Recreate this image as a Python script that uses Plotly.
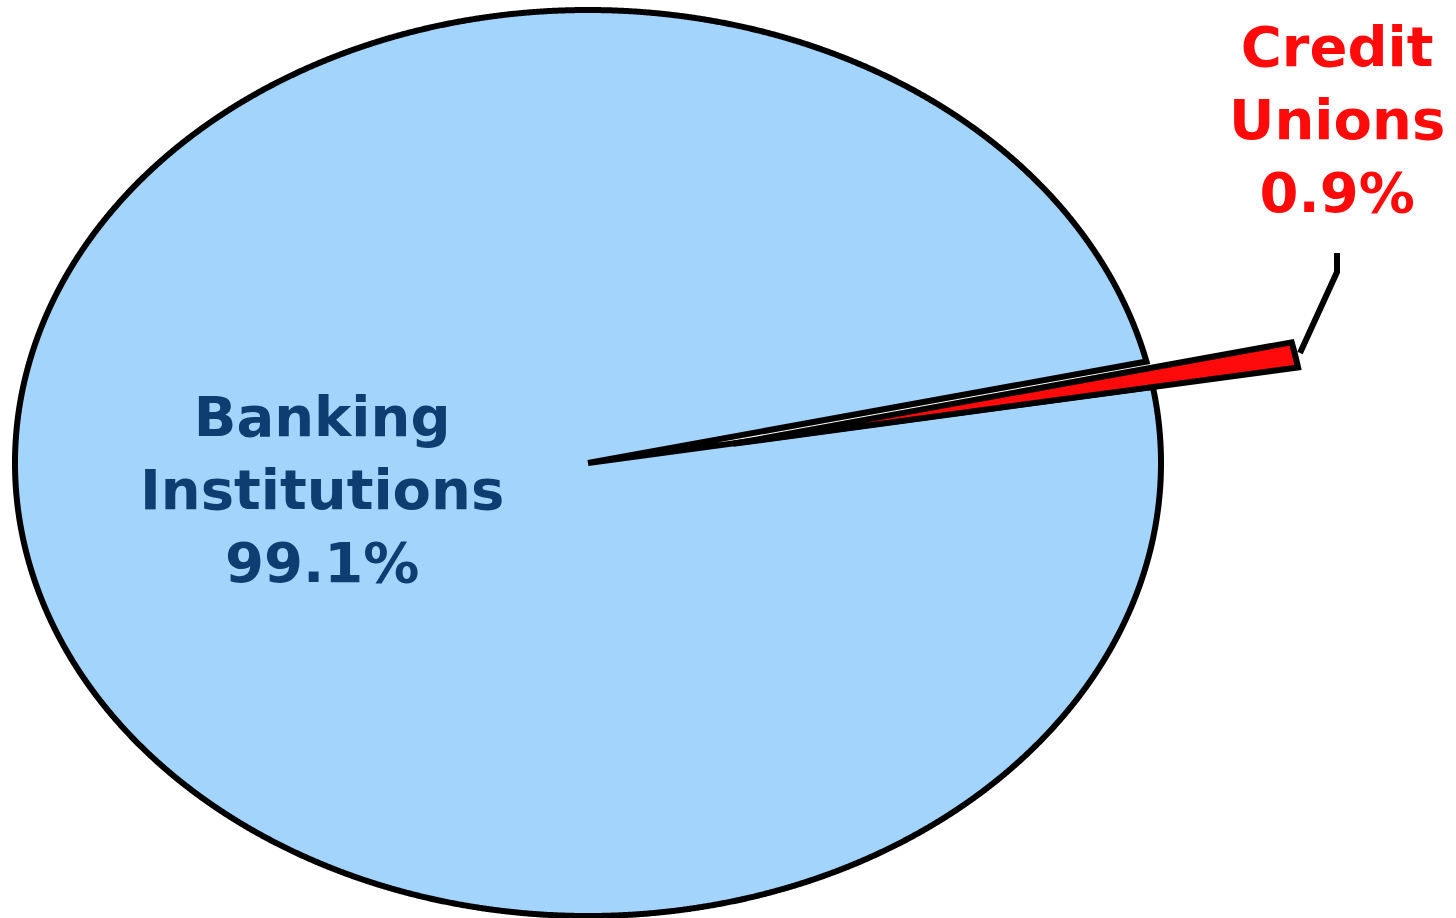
import numpy as np
import plotly.graph_objects as go

# ---- data ----
labels = ["Banking Institutions", "Credit Unions"]
values = [99.1, 0.9]
label_text = ["Banking<br>Institutions<br>99.1%", "Credit<br>Unions<br>0.9%"]

# ---- style ----
fills = ["#A2D4FC", "#FF0A0A"]
text_colors = ["#0E3D71", "#FF0A0A"]
start_angle = 9.7          # degrees, start of the Credit Unions slice (counter-clockwise from east)
pulls = [0.0, 0.257]       # explode distance (radius units)
pull_dir = 9.5             # degrees, explode direction for the pulled slice

W, H = 1456, 918
CX_PX, CY_PX, RX_PX, RY_PX = 588, 463, 573, 453

total = float(sum(values))
spans = [v / total * 360.0 for v in values]

cu_a0 = start_angle
cu_a1 = start_angle + spans[1]
bk_a0 = cu_a1
bk_a1 = cu_a1 + spans[0]
ranges = [(bk_a0, bk_a1), (cu_a0, cu_a1)]


def wedge(a0, a1, dx, dy, n=3000):
    t = np.radians(np.linspace(a0, a1, max(16, int(n * (a1 - a0) / 360) + 16)))
    xs = np.concatenate([[dx], dx + np.cos(t), [dx]])
    ys = np.concatenate([[dy], dy + np.sin(t), [dy]])
    return xs, ys


fig = go.Figure()
for i, (lab, (a0, a1)) in enumerate(zip(labels, ranges)):
    dx = pulls[i] * np.cos(np.radians(pull_dir))
    dy = pulls[i] * np.sin(np.radians(pull_dir))
    xs, ys = wedge(a0, a1, dx, dy)
    fig.add_trace(go.Scatter(
        x=xs, y=ys, mode="lines", fill="toself", fillcolor=fills[i],
        line=dict(color="black", width=6, simplify=False), name=lab,
        hoverinfo="skip", showlegend=False,
    ))

xr = [(0 - CX_PX) / RX_PX, (W - CX_PX) / RX_PX]
yr = [(CY_PX - H) / RY_PX, CY_PX / RY_PX]


def px_to_paper(px, py):
    return px / W, 1 - py / H


font_family = "DejaVu Sans"
ann_pos = [(322, 489), (1337, 119)]
for i in range(2):
    xp, yp = px_to_paper(*ann_pos[i])
    fig.add_annotation(
        x=xp, y=yp, xref="paper", yref="paper", text="<b>" + label_text[i] + "</b>",
        showarrow=False, xanchor="center", yanchor="middle", align="center",
        font=dict(family=font_family, size=56, color=text_colors[i]),
    )

pts = [(1300, 353), (1337, 272), (1337, 253)]
path = "M " + " L ".join(f"{px_to_paper(x, y)[0]},{px_to_paper(x, y)[1]}" for x, y in pts)
fig.add_shape(type="path", path=path, xref="paper", yref="paper",
              line=dict(color="black", width=6))

fig.update_layout(
    width=W, height=H, margin=dict(l=0, r=0, t=0, b=0),
    paper_bgcolor="white", plot_bgcolor="white",
    xaxis=dict(range=xr, visible=False, fixedrange=True),
    yaxis=dict(range=yr, visible=False, fixedrange=True),
    showlegend=False,
)

fig.write_html("out.html")
